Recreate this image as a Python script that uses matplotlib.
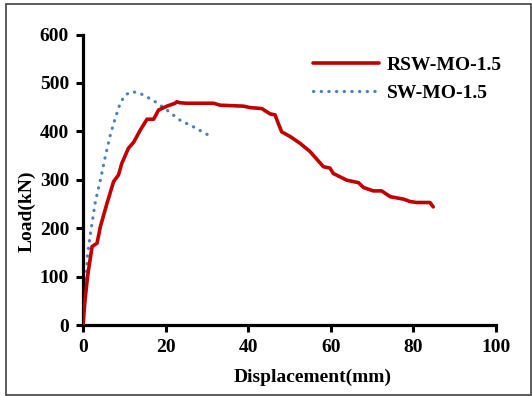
import matplotlib
matplotlib.use("Agg")
import matplotlib.pyplot as plt
from matplotlib.patches import Rectangle

# RSW-MO-1.5 (red solid)
rsw_x = [0, 0.5, 1.1, 2.2, 3.4, 4.2, 5.8, 7.4, 8.6, 9.4, 11.0, 12.3, 13.9, 15.5, 17.1, 18.3,
         20.3, 22.3, 22.7, 23.5, 25.2, 31.6, 33.2, 38.9, 40.5, 43.3, 45.3, 46.5, 47.3, 48.1,
         50.2, 52.6, 55.0, 58.2, 59.8, 60.6, 63.9, 66.7, 67.9, 70.3, 72.3, 74.4, 77.6, 79.2,
         80.8, 84.0, 84.8]
rsw_y = [0, 52, 100, 162, 169, 203, 251, 296, 310, 334, 365, 378, 403, 425, 425, 444,
         452, 458, 461, 459, 458, 458, 454, 452, 449, 447, 436, 434, 416, 399,
         389, 375, 358, 327, 324, 313, 299, 294, 284, 277, 277, 265, 260, 255,
         253, 253, 244]

# SW-MO-1.5 (blue dotted)
sw_x = [0, 0.3, 0.8, 1.1, 1.8, 3.0, 4.2, 5.4, 6.6, 7.8, 9.0, 10.2, 11.8, 13.1, 14.7, 17.5,
        20.3, 23.5, 26.8, 30.4]
sw_y = [0, 52, 100, 145, 189, 255, 299, 348, 392, 427, 458, 475, 482, 480, 475, 461,
        444, 423, 409, 392]

x_ticks = [0, 20, 40, 60, 80, 100]
y_ticks = [0, 100, 200, 300, 400, 500, 600]

plt.rcParams['font.family'] = ['Liberation Serif', 'DejaVu Serif']
plt.rcParams['font.weight'] = 'bold'

FS = 14
W, H = 532, 396
fig = plt.figure(figsize=(W / 100, H / 100), dpi=100)
ax = fig.add_axes([83 / W, 1 - 325 / H, (496 - 83) / W, (325 - 34.5) / H])

ax.plot(rsw_x, rsw_y, color='#C00000', lw=2.6, label='RSW-MO-1.5', solid_capstyle='round',
        solid_joinstyle='round', zorder=3)
ax.plot(sw_x, sw_y, color='#4F81BD', lw=2.3, linestyle=(0, (0.1, 2.3)),
        dash_capstyle='round', label='SW-MO-1.5', zorder=2)

ax.set_xlim(0, 100)
ax.set_ylim(0, 600)
ax.set_xticks(x_ticks)
ax.set_yticks(y_ticks)
ax.tick_params(direction='out', length=5, width=2.2, labelsize=FS, pad=5)
for lbl in ax.get_xticklabels() + ax.get_yticklabels():
    lbl.set_fontweight('bold')
for s in ['top', 'right']:
    ax.spines[s].set_visible(False)
for s in ['left', 'bottom']:
    ax.spines[s].set_linewidth(2.3)

ax.set_xlabel('Displacement(mm)', fontsize=FS, fontweight='bold', va='center')
ax.set_ylabel('Load(kN)', fontsize=FS, fontweight='bold', va='center')
ax.xaxis.set_label_coords(0.555, -0.18)
ax.yaxis.set_label_coords(-0.136, 0.39)

leg = ax.legend(loc='upper left', bbox_to_anchor=(0.515, 0.985), frameon=False,
                prop={'size': FS, 'weight': 'bold'}, handlelength=3.4,
                handletextpad=0.4, labelspacing=0.55)

fig.patches.append(Rectangle((6 / W, 1 - 395 / H), (531 - 6) / W, (395 - 4) / H,
                             transform=fig.transFigure, fill=False, edgecolor='#404040',
                             lw=1.2))

fig.savefig('out.png', dpi=100)
